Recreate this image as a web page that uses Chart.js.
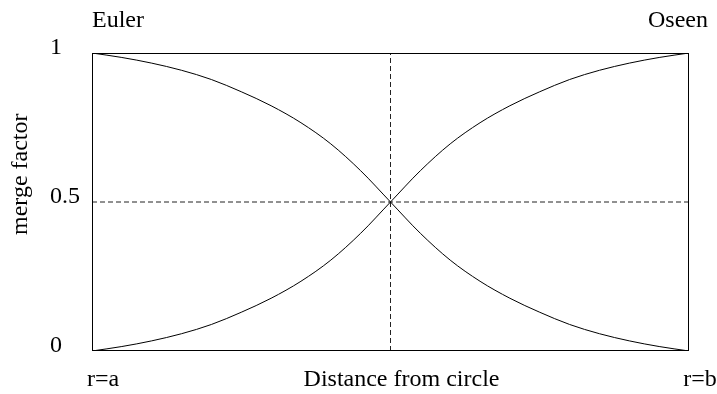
<!DOCTYPE html>
<html><head><meta charset="utf-8">
<script src="https://cdn.jsdelivr.net/npm/chart.js@4/dist/chart.umd.min.js"></script>
<style>html,body{margin:0;padding:0;background:#fff}</style>
</head><body>
<canvas id="c" width="717" height="394"></canvas>
<script>
const xValues      = [0, 0.05, 0.10, 0.15, 0.20, 0.25, 0.30, 0.35, 0.40, 0.45, 0.50, 0.55, 0.60, 0.65, 0.70, 0.75, 0.80, 0.85, 0.90, 0.95, 1.00];
const eulerFactor  = [1.000, 0.985, 0.966, 0.942, 0.911, 0.870, 0.823, 0.766, 0.695, 0.605, 0.500, 0.395, 0.305, 0.234, 0.177, 0.130, 0.089, 0.058, 0.034, 0.015, 0.000];
const oseenFactor  = [0.000, 0.015, 0.034, 0.058, 0.089, 0.130, 0.177, 0.234, 0.305, 0.395, 0.500, 0.605, 0.695, 0.766, 0.823, 0.870, 0.911, 0.942, 0.966, 0.985, 1.000];
const xTickValues  = [0, 0.5, 1];
const xTickLabels  = ['r=a', 'Distance from circle', 'r=b'];
const yTickValues  = [0, 0.5, 1];
const yTickLabels  = ['0', '0.5', '1'];
const cornerLabels = ['Euler', 'Oseen'];
const yTitle       = 'merge factor';
const midX = 0.5;
const midY = 0.5;

const FONT = "'Liberation Serif', 'Times New Roman', serif";

const framePlugin = {
  id: 'frame',
  afterDatasetsDraw(chart) {
    const {ctx, chartArea: a} = chart;
    ctx.save();
    ctx.strokeStyle = '#000';
    ctx.lineWidth = 1;
    ctx.strokeRect(Math.round(a.left) + 0.5, Math.round(a.top) + 0.5,
                   Math.round(a.right - a.left) - 1, Math.round(a.bottom - a.top) - 1);
    ctx.restore();
  },
  afterDraw(chart) {
    const {ctx, chartArea: a} = chart;
    ctx.save();
    ctx.fillStyle = '#000';
    ctx.font = '24px ' + FONT;
    ctx.textBaseline = 'alphabetic';
    ctx.textAlign = 'left';
    ctx.fillText(cornerLabels[0], a.left, 27);
    ctx.textAlign = 'right';
    ctx.fillText(cornerLabels[1], 708, 27);
    ctx.translate(27, 235);
    ctx.rotate(-Math.PI / 2);
    ctx.textAlign = 'left';
    ctx.fillText(yTitle, 0, 0);
    ctx.restore();
  }
};

new Chart(document.getElementById('c'), {
  type: 'line',
  data: {
    datasets: [
      { data: xValues.map((x, i) => ({x, y: eulerFactor[i]})), borderColor: '#000', borderWidth: 1, pointRadius: 0, cubicInterpolationMode: 'monotone' },
      { data: xValues.map((x, i) => ({x, y: oseenFactor[i]})), borderColor: '#000', borderWidth: 1, pointRadius: 0, cubicInterpolationMode: 'monotone' },
      { data: [{x: midX, y: 0}, {x: midX, y: 1}], borderColor: '#222', borderWidth: 1, borderDash: [5, 3], pointRadius: 0 },
      { data: [{x: 0, y: midY}, {x: 1, y: midY}], borderColor: '#222', borderWidth: 1, borderDash: [5, 3], pointRadius: 0 }
    ]
  },
  options: {
    responsive: false,
    animation: false,
    devicePixelRatio: 1,
    layout: { padding: { left: 50, top: 53, right: 28, bottom: 0 } },
    plugins: { legend: { display: false }, tooltip: { enabled: false } },
    scales: {
      x: {
        type: 'linear', min: 0, max: 1,
        grid: { display: false, drawTicks: false },
        border: { display: false },
        afterBuildTicks: s => { s.ticks = xTickValues.map(v => ({value: v})); },
        afterFit: s => { s.height = 43; s.paddingLeft = 0; s.paddingRight = 0; },
        ticks: {
          autoSkip: false, maxRotation: 0, padding: 14, labelOffset: 11,
          color: '#000', font: { family: FONT, size: 24 },
          callback: (v, i) => xTickLabels[i]
        }
      },
      y: {
        type: 'linear', min: 0, max: 1,
        grid: { display: false, drawTicks: false },
        border: { display: false },
        afterBuildTicks: s => { s.ticks = yTickValues.map(v => ({value: v})); },
        afterFit: s => { s.width = 42; s.paddingTop = 0; s.paddingBottom = 0; },
        ticks: {
          crossAlign: 'far', padding: 0, labelOffset: -5,
          color: '#000', font: { family: FONT, size: 24 },
          callback: (v, i) => yTickLabels[i]
        }
      }
    }
  },
  plugins: [framePlugin]
});
</script>
</body></html>
